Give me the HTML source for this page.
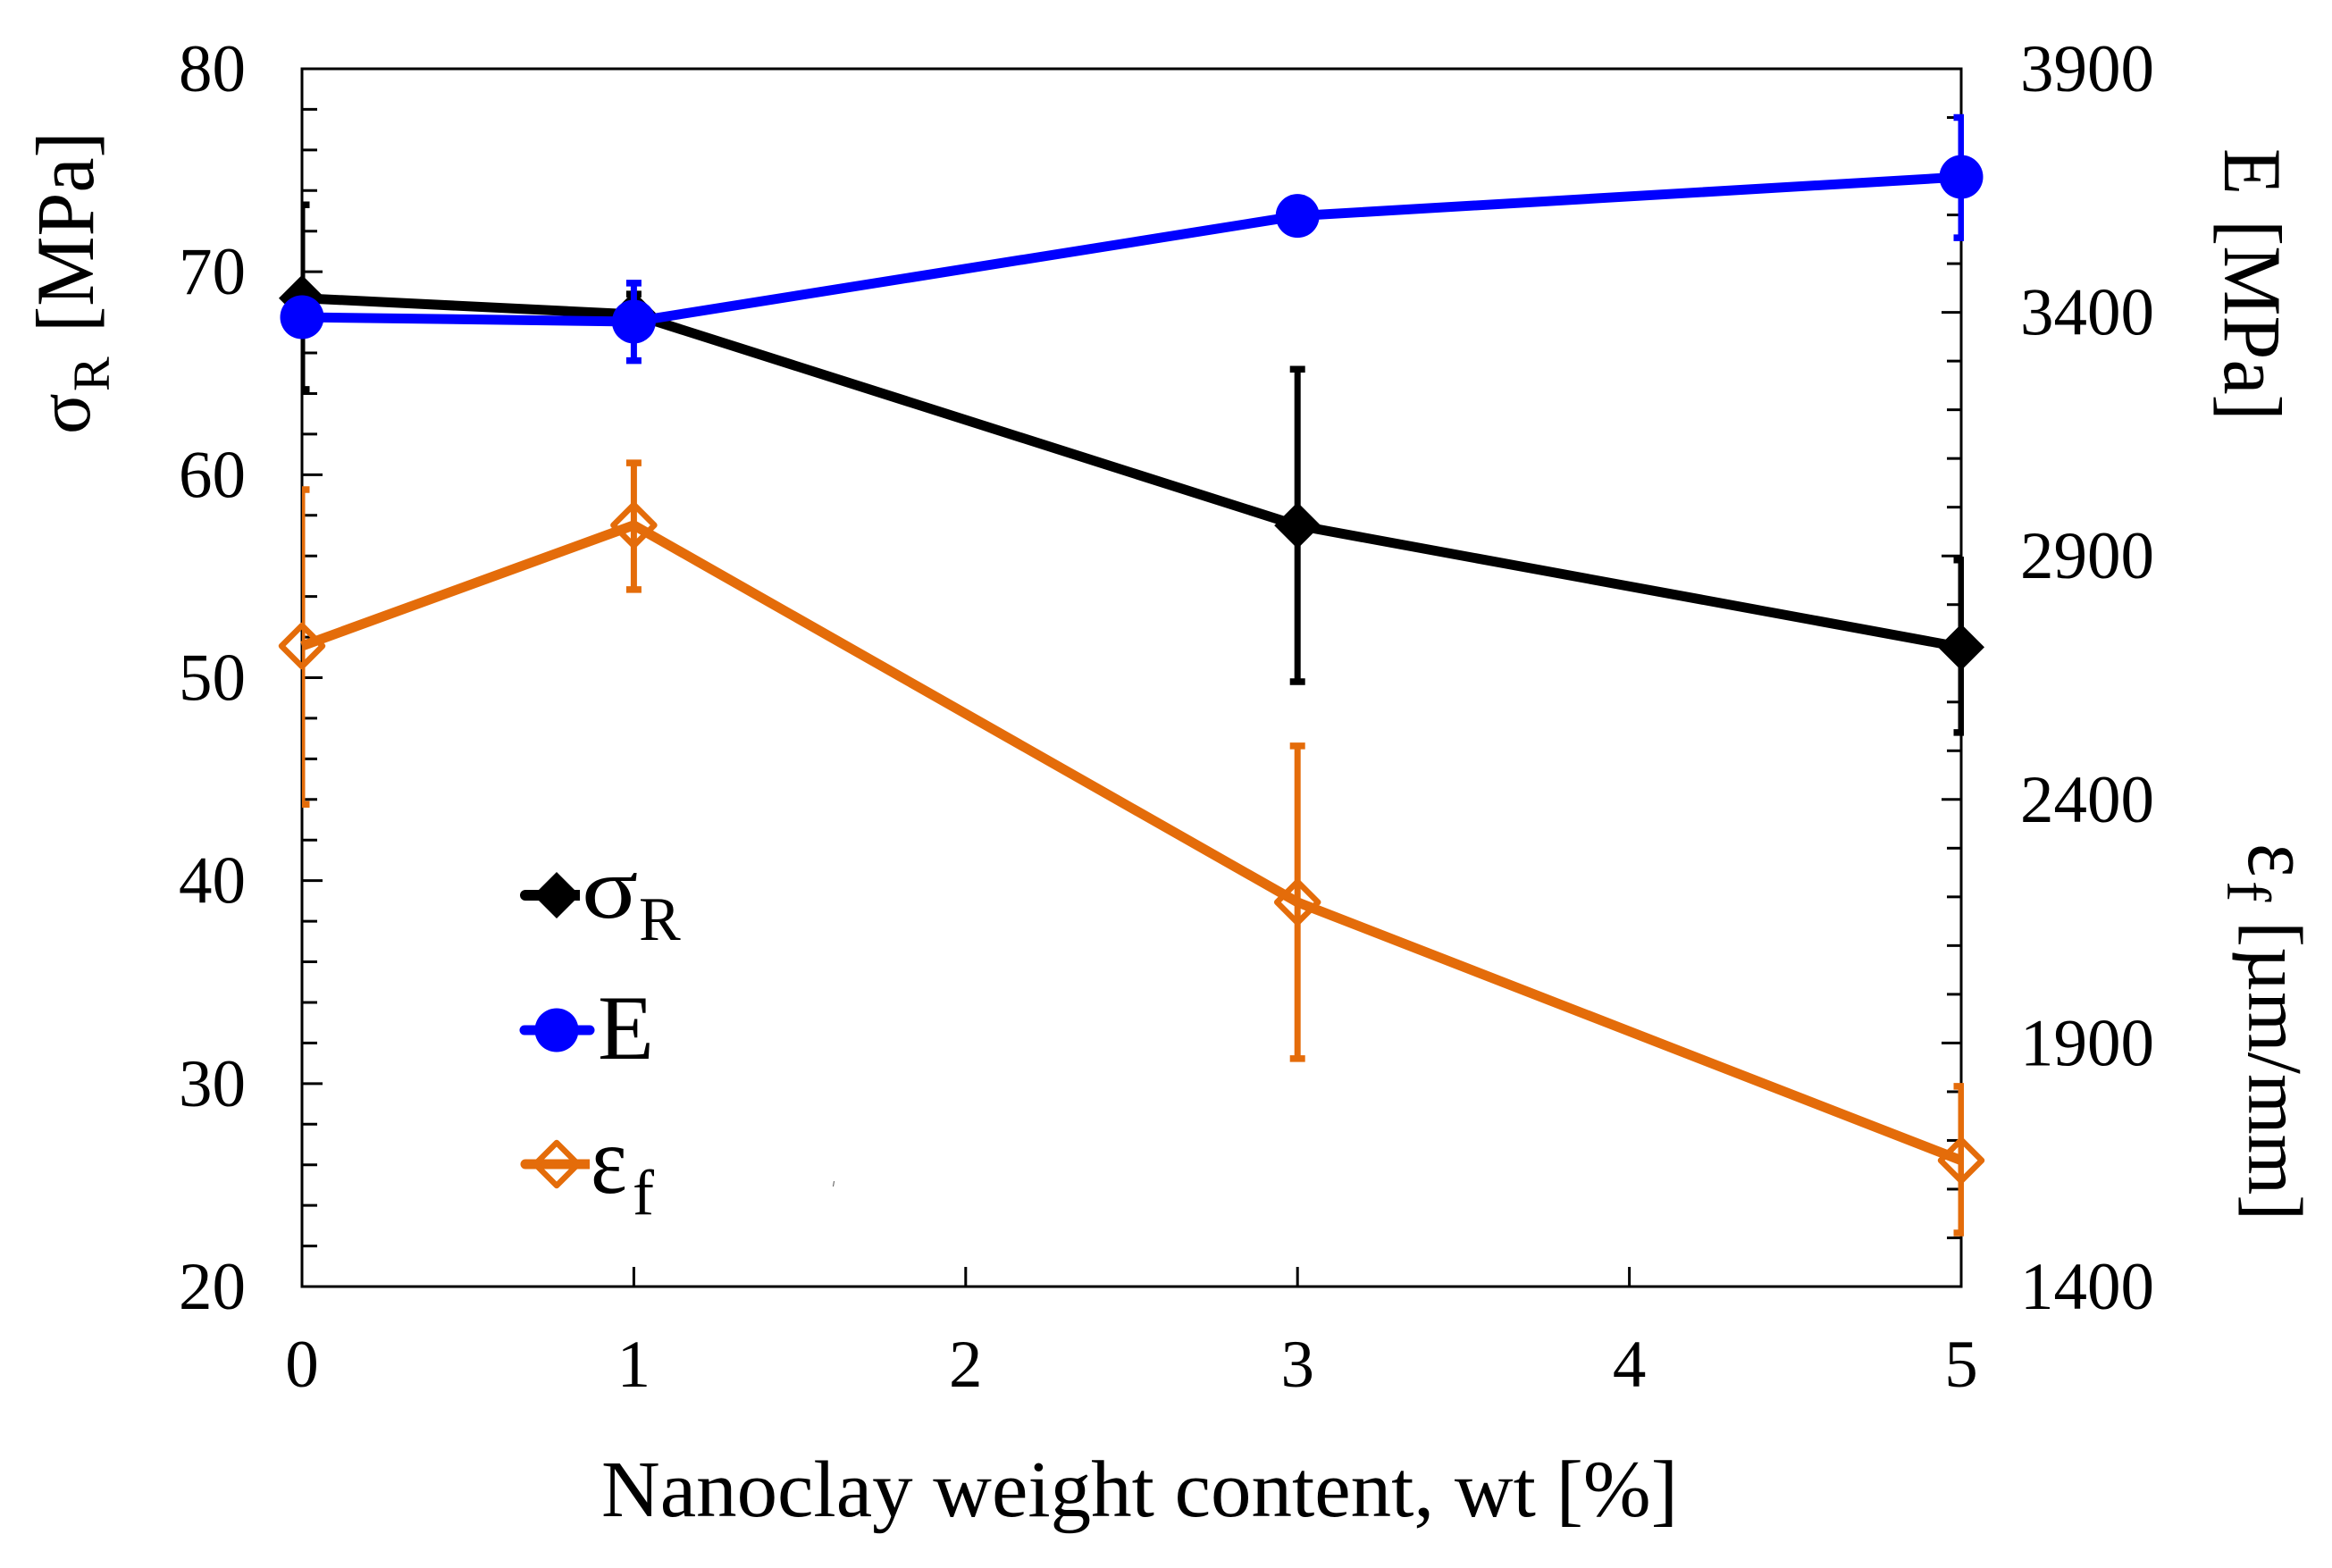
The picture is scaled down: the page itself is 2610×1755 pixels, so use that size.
<!DOCTYPE html>
<html lang="en">
<head>
<meta charset="utf-8">
<title>Nanoclay weight content chart</title>
<style>
html,body{margin:0;padding:0;background:#fff;width:2610px;height:1755px;overflow:hidden}
svg{display:block}
text{font-family:"Liberation Serif",serif;fill:#000}
</style>
</head>
<body>
<svg id="chart" xmlns="http://www.w3.org/2000/svg" width="2610" height="1755" viewBox="0 0 2610 1755">
  <defs>
    <clipPath id="plot-clip"><rect x="338" y="0" width="1860" height="1755"/></clipPath>
  </defs>
  <rect width="2610" height="1755" fill="#fff"/>
  <g id="ticks"></g>
  <g id="labels"></g>
  <rect x="338" y="77" width="1857" height="1363" fill="none" stroke="#000" stroke-width="3"/>
  <g id="series"></g>

  <text x="673" y="1697" font-size="90" textLength="1205" lengthAdjust="spacingAndGlyphs">Nanoclay weight content, wt [%]</text>

  <g>
    <text transform="translate(100 486) rotate(-90)" font-size="85">σ</text>
    <text transform="translate(122 438) rotate(-90)" font-size="58">R</text>
    <text transform="translate(104 372) rotate(-90) scale(1 1.05)" font-size="88">[MPa]</text>
  </g>
  <g>
    <text transform="translate(2490 166) rotate(90) scale(1 1.08)" font-size="85">E</text>
    <text transform="translate(2490 246) rotate(90) scale(1 1.05)" font-size="88">[MPa]</text>
  </g>
  <g>
    <text transform="translate(2517 944) rotate(90) scale(0.85 1)" font-size="105">ε</text>
    <text transform="translate(2493 986) rotate(90)" font-size="70">f</text>
    <text transform="translate(2517 1031) rotate(90)" font-size="87">[µm/mm]</text>
  </g>

  <g>
    <g>
      <line x1="588" y1="1002" x2="649" y2="1002" stroke="#000" stroke-width="12"/>
      <circle cx="588" cy="1002" r="6" fill="#000"/>
      <polygon points="623,976 649,1002 623,1028 597,1002" fill="#000"/>
      <text transform="translate(651 1027) scale(1.2 1)" font-size="98">σ</text>
      <text x="715" y="1052" font-size="70">R</text>
    </g>
    <g>
      <line x1="587" y1="1153" x2="660" y2="1153" stroke="#00f" stroke-width="11" stroke-linecap="round"/>
      <circle cx="623" cy="1153" r="24.5" fill="#00f"/>
      <text x="669" y="1185" font-size="103">E</text>
    </g>
    <g>
      <line x1="588" y1="1303" x2="660" y2="1303" stroke="#e46c0a" stroke-width="11"/>
      <circle cx="588" cy="1303" r="5.5" fill="#e46c0a"/>
      <polygon points="623,1279 647,1303 623,1327 599,1303" fill="none" stroke="#e46c0a" stroke-width="6.5" stroke-linejoin="round"/>
      <text transform="translate(661 1335) scale(0.9 1)" font-size="108">ε</text>
      <text x="708" y="1359" font-size="72">f</text>
    </g>
  </g>
  <line x1="933.5" y1="1322" x2="932.5" y2="1328" stroke="#555" stroke-width="1"/>
</svg>
<script>
var xCategories = [0, 1, 3, 5];
var xTickValues = [0, 1, 2, 3, 4, 5];
var leftTickValues = [20, 30, 40, 50, 60, 70, 80];
var rightTickValues = [1400, 1900, 2400, 2900, 3400, 3900];

var sigmaValues = [68.7, 67.9, 57.5, 51.5];
var sigmaUpper = [73.3, 68.9, 65.2, 55.8];
var sigmaLower = [64.2, 66.9, 49.8, 47.3];

var modulusValues = [3390, 3381, 3598, 3678];
var modulusUpper = [3420, 3460, 3625, 3800];
var modulusLower = [3360, 3301, 3570, 3553];

var strainValues = [2715, 2963, 2189, 1659];
var strainUpper = [3036, 3091, 2510, 1811];
var strainLower = [2390, 2831, 1868, 1510];

var NS = 'http://www.w3.org/2000/svg';
var PLOT = { left: 338, right: 2195, top: 77, bottom: 1440 };

function xScale(v) { return PLOT.left + (v - 0) / 5 * (PLOT.right - PLOT.left); }
function yLeft(v) { return PLOT.bottom - (v - 20) / 60 * (PLOT.bottom - PLOT.top); }
function yRight(v) { return PLOT.bottom - (v - 1400) / 2500 * (PLOT.bottom - PLOT.top); }

function make(tag, attrs, parent) {
  var el = document.createElementNS(NS, tag);
  for (var k in attrs) { el.setAttribute(k, attrs[k]); }
  parent.appendChild(el);
  return el;
}

var ticksGroup = document.getElementById('ticks');
var labelsGroup = document.getElementById('labels');
var seriesGroup = document.getElementById('series');

function tickLine(x1, y1, x2, y2, name) {
  var el = make('line', { x1: x1, y1: y1, x2: x2, y2: y2, stroke: '#000', 'stroke-width': 3 }, ticksGroup);
  
  
}

function tickLabel(x, y, anchor, text, name) {
  var el = make('text', { x: x, y: y, 'text-anchor': anchor, 'font-size': 75 }, labelsGroup);
  el.textContent = text;
  
  
}

xTickValues.forEach(function (v) {
  tickLine(xScale(v), PLOT.bottom, xScale(v), PLOT.bottom - 22, 'x-tick');
  tickLabel(xScale(v), 1552, 'middle', String(v), 'x-tick-label');
});

leftTickValues.forEach(function (v, i) {
  tickLine(PLOT.left, yLeft(v), PLOT.left + 23, yLeft(v), 'left-major-tick');
  tickLabel(275, yLeft(v) + 25, 'end', String(v), 'left-tick-label');
  if (i < leftTickValues.length - 1) {
    var step = (leftTickValues[i + 1] - v) / 5;
    for (var m = 1; m < 5; m++) {
      tickLine(PLOT.left, yLeft(v + step * m), PLOT.left + 17, yLeft(v + step * m), 'left-minor-tick');
    }
  }
});

rightTickValues.forEach(function (v, i) {
  tickLine(PLOT.right, yRight(v), PLOT.right - 22, yRight(v), 'right-major-tick');
  tickLabel(2411, yRight(v) + 25, 'end', String(v), 'right-tick-label');
  if (i < rightTickValues.length - 1) {
    var step = (rightTickValues[i + 1] - v) / 5;
    for (var m = 1; m < 5; m++) {
      tickLine(PLOT.right, yRight(v + step * m), PLOT.right - 16, yRight(v + step * m), 'right-minor-tick');
    }
  }
});

function drawErrorBars(upper, lower, scale, color, width) {
  var g = make('g', { 'clip-path': 'url(#plot-clip)' }, seriesGroup);
  
  
  xCategories.forEach(function (c, i) {
    var x = xScale(c);
    var stem = make('line', { x1: x, y1: scale(upper[i]), x2: x, y2: scale(lower[i]), stroke: color, 'stroke-width': width }, g);
    
    
    var capTop = make('line', { x1: x - 8.5, y1: scale(upper[i]), x2: x + 8.5, y2: scale(upper[i]), stroke: color, 'stroke-width': 7.5 }, g);
    
    
    var capBottom = make('line', { x1: x - 8.5, y1: scale(lower[i]), x2: x + 8.5, y2: scale(lower[i]), stroke: color, 'stroke-width': 7.5 }, g);
    
    
  });
}

function pointsOf(values, scale) {
  return values.map(function (v, i) { return xScale(xCategories[i]) + ',' + scale(v); }).join(' ');
}

function diamondPoints(x, y, r) {
  return x + ',' + (y - r) + ' ' + (x + r) + ',' + y + ' ' + x + ',' + (y + r) + ' ' + (x - r) + ',' + y;
}

// sigma series (left axis)
drawErrorBars(sigmaUpper, sigmaLower, yLeft, '#000', 7);
var sigmaLine = make('polyline', { points: pointsOf(sigmaValues, yLeft), fill: 'none', stroke: '#000', 'stroke-width': 11, 'stroke-linejoin': 'round' }, seriesGroup);


sigmaValues.forEach(function (v, i) {
  var p = make('polygon', { points: diamondPoints(xScale(xCategories[i]), yLeft(v), 26), fill: '#000' }, seriesGroup);
  
  
});

// modulus series (right axis)
drawErrorBars(modulusUpper, modulusLower, yRight, '#00f', 7);
var modulusLine = make('polyline', { points: pointsOf(modulusValues, yRight), fill: 'none', stroke: '#00f', 'stroke-width': 11, 'stroke-linejoin': 'round' }, seriesGroup);


modulusValues.forEach(function (v, i) {
  var p = make('circle', { cx: xScale(xCategories[i]), cy: yRight(v), r: 24.5, fill: '#00f' }, seriesGroup);
  
  
});

// strain series (right axis)
drawErrorBars(strainUpper, strainLower, yRight, '#e46c0a', 7);
var strainLine = make('polyline', { points: pointsOf(strainValues, yRight), fill: 'none', stroke: '#e46c0a', 'stroke-width': 11, 'stroke-linejoin': 'round' }, seriesGroup);


strainValues.forEach(function (v, i) {
  var p = make('polygon', { points: diamondPoints(xScale(xCategories[i]), yRight(v), 23), fill: 'none', stroke: '#e46c0a', 'stroke-width': 6.5, 'stroke-linejoin': 'round' }, seriesGroup);
  
  
});
</script>
</body>
</html>
